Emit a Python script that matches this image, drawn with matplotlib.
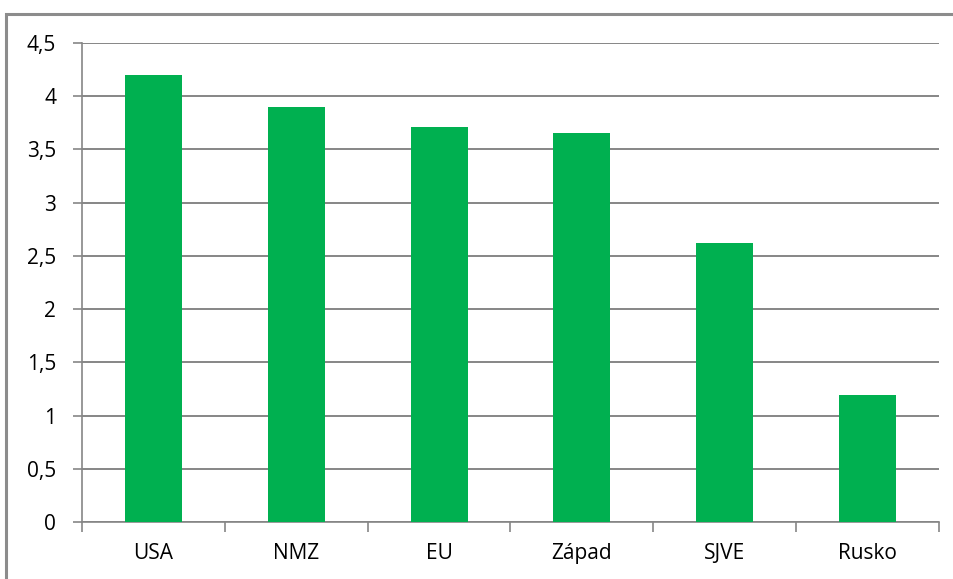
import matplotlib.pyplot as plt
from matplotlib.patches import Rectangle
from matplotlib.ticker import FixedLocator, FuncFormatter

categories = ['USA', 'NMZ', 'EU', 'Západ', 'SJVE', 'Rusko']
values = [4.2, 3.9, 3.71, 3.65, 2.62, 1.19]
y_ticks = [0, 0.5, 1, 1.5, 2, 2.5, 3, 3.5, 4, 4.5]

plt.rcParams['font.family'] = ['Open Sans', 'DejaVu Sans']

fig = plt.figure(figsize=(9.54, 5.79), dpi=100)
# outer frame: only left and top edges are visible in the crop
fig.patches.append(Rectangle((6 / 954, -0.05), 1.0, 1.05 - 14 / 579,
                             transform=fig.transFigure, fill=False,
                             edgecolor='#8c8c8c', linewidth=2.2))

ax = fig.add_axes([82 / 954, 1 - 522 / 579, 857 / 954, (522 - 43) / 579])
x = range(len(categories))
ax.bar(x, values, width=0.4, color='#00b050', zorder=3)

ax.set_xlim(-0.5, len(categories) - 0.5)
ax.set_ylim(0, 4.5)
ax.set_yticks(y_ticks)
ax.yaxis.set_major_formatter(FuncFormatter(lambda v, p: ('%g' % v).replace('.', ',')))
ax.set_xticks(list(x))
ax.set_xticklabels(categories)
ax.xaxis.set_minor_locator(FixedLocator([i - 0.5 for i in range(len(categories) + 1)]))

ax.grid(axis='y', color='#868686', linewidth=1.4, zorder=0)
for s in ['top', 'right']:
    ax.spines[s].set_visible(False)
for s in ['left', 'bottom']:
    ax.spines[s].set_color('#868686')
    ax.spines[s].set_linewidth(1.2)

ax.tick_params(axis='y', length=6.5, width=1.2, color='#868686', labelsize=15, pad=12)
ax.tick_params(axis='x', which='major', length=0, labelsize=15, pad=15)
ax.tick_params(axis='x', which='minor', length=7, width=1.2, color='#868686')

fig.savefig('out.png', dpi=100)
